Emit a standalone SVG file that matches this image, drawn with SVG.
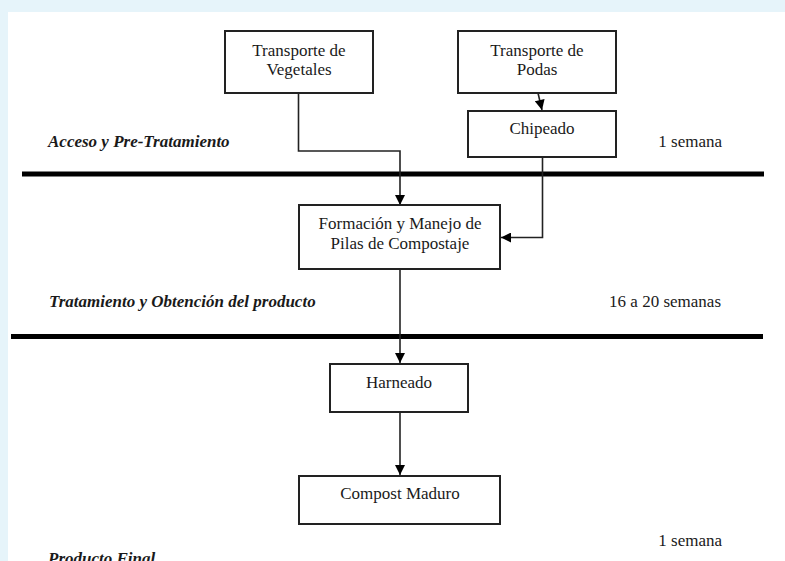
<svg xmlns="http://www.w3.org/2000/svg" width="785" height="561" viewBox="0 0 785 561">
<defs>
<style>
.box{fill:#fff;stroke:#222;stroke-width:2}
.t{font-family:"Liberation Serif","Times New Roman",serif;font-size:17px;fill:#1a1a1a;text-anchor:middle}
.lbl{font-family:"Liberation Serif","Times New Roman",serif;font-size:17px;font-weight:bold;font-style:italic;fill:#1a1a1a}
.dur{font-family:"Liberation Serif","Times New Roman",serif;font-size:17px;fill:#1a1a1a;text-anchor:end}
.sep{stroke:#000;stroke-width:5}
.c{fill:none;stroke:#222;stroke-width:1.6;marker-end:url(#ah)}
</style>
<marker id="ah" viewBox="0 0 10 10" refX="10" refY="5" markerWidth="11" markerHeight="10" markerUnits="userSpaceOnUse" orient="auto">
<path d="M0,0 L10,5 L0,10 z" fill="#000"/>
</marker>
</defs>
<rect x="0" y="0" width="785" height="561" fill="#e6f4fa"/>
<rect x="8" y="12" width="777" height="549" fill="#fff"/>

<g id="separators">
<line class="sep" x1="22" y1="174" x2="764" y2="174"/>
<line class="sep" x1="11" y1="336.5" x2="763" y2="336.5"/>
</g>

<g id="connectors">
<path class="c" d="M298.5,93 V151 H400 V205"/>
<path class="c" d="M538,93 L542,110"/>
<path class="c" d="M542.5,157 V237.5 H501"/>
<path class="c" d="M400,269 V363"/>
<path class="c" d="M400,413 V475"/>
</g>

<g id="n-vegetales">
<rect class="box" x="225" y="31" width="148" height="62"/>
<text class="t" x="299" y="56">Transporte de</text>
<text class="t" x="299" y="75">Vegetales</text>
</g>
<g id="n-podas">
<rect class="box" x="458" y="31" width="158" height="62"/>
<text class="t" x="537" y="56">Transporte de</text>
<text class="t" x="537" y="75">Podas</text>
</g>
<g id="n-chipeado">
<rect class="box" x="468" y="111" width="148" height="46"/>
<text class="t" x="542" y="134">Chipeado</text>
</g>
<g id="n-formacion">
<rect class="box" x="299" y="205" width="201" height="64"/>
<text class="t" x="400" y="229">Formación y Manejo de</text>
<text class="t" x="400" y="249">Pilas de Compostaje</text>
</g>
<g id="n-harneado">
<rect class="box" x="330" y="364" width="138" height="48"/>
<text class="t" x="399" y="388">Harneado</text>
</g>
<g id="n-compost">
<rect class="box" x="299" y="476" width="201" height="48"/>
<text class="t" x="400" y="499">Compost Maduro</text>
</g>

<g id="labels">
<text class="lbl" x="48" y="147">Acceso y Pre-Tratamiento</text>
<text class="dur" x="722" y="147">1 semana</text>
<text class="lbl" x="49" y="307">Tratamiento y Obtención del producto</text>
<text class="dur" x="721" y="307">16 a 20 semanas</text>
<text class="dur" x="722" y="546">1 semana</text>
<text class="lbl" x="48" y="564">Producto Final</text>
</g>
</svg>
